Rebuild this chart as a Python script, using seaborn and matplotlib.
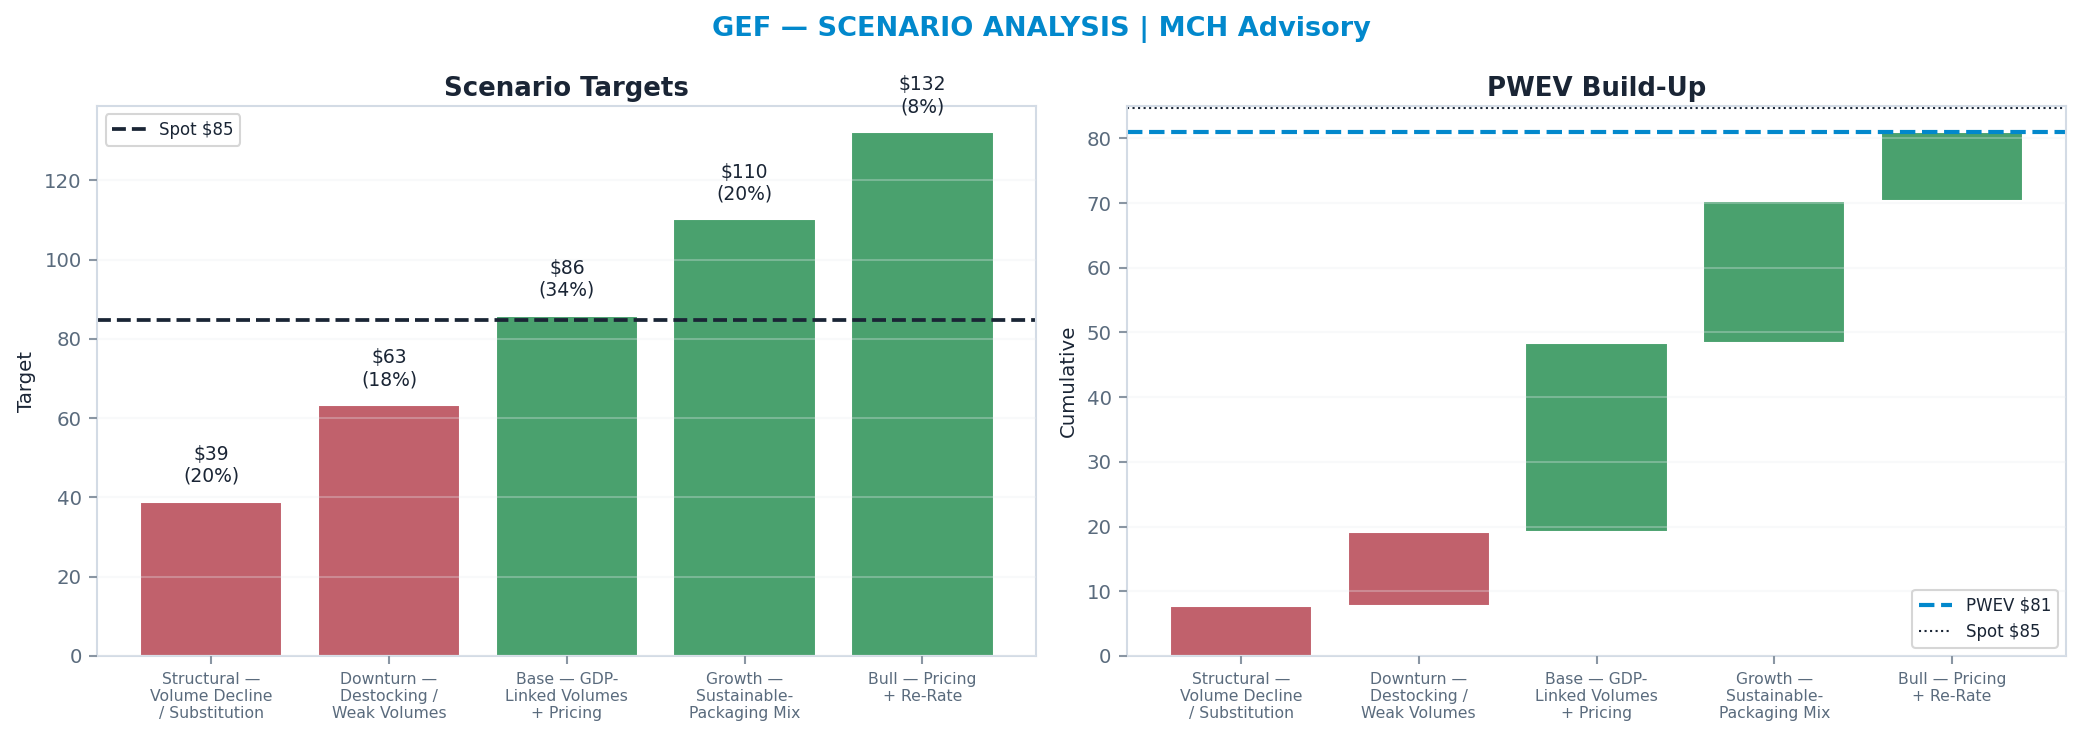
import textwrap
import numpy as np
import pandas as pd
import matplotlib
matplotlib.use("Agg")
import matplotlib.pyplot as plt
import seaborn as sns

# scenario data
scenarios = [
    "Structural — Volume Decline / Substitution",
    "Downturn — Destocking / Weak Volumes",
    "Base — GDP-Linked Volumes + Pricing",
    "Growth — Sustainable-Packaging Mix",
    "Bull — Pricing + Re-Rate",
]
targets = [38.9, 63.3, 85.8, 110.1, 132.1]
probs = [0.20, 0.18, 0.34, 0.20, 0.08]
spot = 84.7

RED = "#c1616c"
GREEN = "#4aa16e"
BLUE = "#0288cc"
NAVY = "#1a2535"
SLATE = "#5a6b7d"
SPINE = "#d3dbe5"

sns.set_theme(style="white")
plt.rcParams["font.family"] = ["DejaVu Sans"]

labels = [textwrap.fill(s, 14) for s in scenarios]
colors = [RED if t < spot else GREEN for t in targets]
df = pd.DataFrame({"scenario": labels, "target": targets, "prob": probs})
df["contrib"] = df["target"] * df["prob"]
df["cum"] = df["contrib"].cumsum()
df["start"] = df["cum"] - df["contrib"]
pwev = df["cum"].iloc[-1]

fig, (ax1, ax2) = plt.subplots(1, 2, figsize=(2083 / 150, 742 / 150), dpi=150)
fig.subplots_adjust(left=0.0468, right=0.9918, top=0.857, bottom=0.116, wspace=0.097)

# --- left: scenario targets
sns.barplot(data=df, x="scenario", y="target", hue="scenario", palette=colors,
            legend=False, width=0.8, saturation=1, ax=ax1)
ax1.set_xlim(-0.64, 4.64)
ax1.axhline(spot, color=NAVY, ls="--", lw=1.8, label=f"Spot ${spot:.0f}")
for i, (t, p) in enumerate(zip(targets, probs)):
    ax1.text(i, t + 4.0, f"${t:.0f}\n({p:.0%})", ha="center", va="bottom",
             fontsize=9, color=NAVY)
ax1.set_title("Scenario Targets", fontsize=12.5, fontweight="bold", color=NAVY, pad=5)
ax1.set_ylabel("Target", fontsize=9.5, color=NAVY)
ax1.set_xlabel("")
ax1.legend(loc="upper left", fontsize=8, frameon=True, edgecolor="#cccccc",
           labelcolor=NAVY)

# --- right: PWEV build-up (waterfall)
ax2.bar(np.arange(len(df)), df["contrib"], bottom=df["start"], width=0.8,
        color=colors)
ax2.axhline(pwev, color=BLUE, ls="--", lw=2.0, label=f"PWEV ${pwev:.0f}")
ax2.axhline(spot, color=NAVY, ls=":", lw=1.0, label=f"Spot ${spot:.0f}")
ax2.set_xticks(np.arange(len(df)))
ax2.set_xticklabels(labels)
ax2.set_xlim(-0.64, 4.64)
ax2.set_title("PWEV Build-Up", fontsize=12.5, fontweight="bold", color=NAVY, pad=5)
ax2.set_ylabel("Cumulative", fontsize=9.5, color=NAVY)
ax2.legend(loc="lower right", fontsize=8, frameon=True, edgecolor="#cccccc",
           labelcolor=NAVY)

for ax in (ax1, ax2):
    ax.set_axisbelow(False)
    ax.yaxis.grid(True, color="#e8ecf0", lw=1.0, alpha=0.3)
    ax.xaxis.grid(False)
    for sp in ax.spines.values():
        sp.set_color(SPINE)
        sp.set_linewidth(1.0)
    ax.tick_params(axis="y", labelsize=9.5, colors=SLATE, length=4, width=1,
                   left=True)
    ax.tick_params(axis="x", labelsize=7.5, colors=SLATE, length=4, width=1,
                   bottom=True)
    ax.tick_params(axis="both", color="#8a96a3")

fig.suptitle("GEF — SCENARIO ANALYSIS | MCH Advisory", fontsize=13,
             fontweight="bold", color=BLUE, y=0.978)

fig.savefig("out.png", dpi=150)
